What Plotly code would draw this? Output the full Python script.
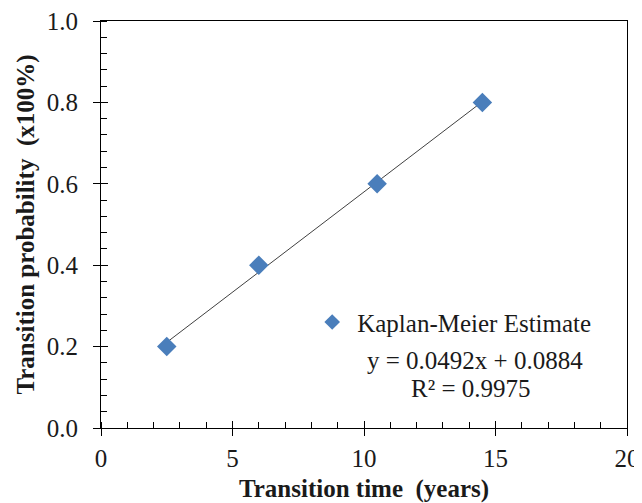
import numpy as np
import plotly.graph_objects as go

# Data
transition_time = [2.5, 6.0, 10.5, 14.5]
transition_prob = [0.2, 0.4, 0.6, 0.8]
x_ticks = [0, 5, 10, 15, 20]
y_ticks = [0.0, 0.2, 0.4, 0.6, 0.8, 1.0]
equation_text = "y = 0.0492x + 0.0884"
r2_text = "R² = 0.9975"

slope, intercept = np.polyfit(transition_time, transition_prob, 1)
fit_x = [min(transition_time), max(transition_time)]
fit_y = [slope * v + intercept for v in fit_x]

FONT = "Liberation Serif, Times New Roman, serif"
TXT = "#1a1a1a"

fig = go.Figure()
fig.add_trace(go.Scatter(x=fit_x, y=fit_y, mode="lines",
                         line=dict(color="#404040", width=1),
                         showlegend=False, hoverinfo="skip"))
fig.add_trace(go.Scatter(x=transition_time, y=transition_prob, mode="markers",
                         name="Kaplan-Meier Estimate",
                         marker=dict(symbol="diamond", size=15, color="#4A7EBB")))

axis_common = dict(showgrid=False, zeroline=False, showline=True, linecolor="black",
                   linewidth=1, mirror=True, ticks="outside", ticklen=7, tickwidth=1,
                   tickcolor="black", automargin=False, ticklabeloverflow="allow",
                   tickfont=dict(family=FONT, size=25, color=TXT))

fig.update_xaxes(range=[0, 20], tickvals=x_ticks, ticktext=[str(v) for v in x_ticks],
                 minor=dict(ticks="inside", dtick=1, ticklen=6, tickcolor="black", tickwidth=1),
                 ticklabelstandoff=1,
                 title=dict(text="<b>Transition time  (years)</b>",
                            font=dict(family=FONT, size=25, color=TXT), standoff=11),
                 **axis_common)
fig.update_yaxes(range=[0, 1.0], tickvals=y_ticks, ticktext=[f"{v:.1f}" for v in y_ticks],
                 minor=dict(ticks="inside", dtick=0.04, ticklen=6, tickcolor="black", tickwidth=1),
                 ticklabelstandoff=10,
                 title=dict(text="<b>Transition probability  (x100%)</b>",
                            font=dict(family=FONT, size=25, color=TXT), standoff=5),
                 **axis_common)

# overlay axes to draw the inside half of the crossing major ticks
fig.update_layout(
    xaxis2=dict(overlaying="x", anchor="y", range=[0, 20], tickvals=x_ticks, ticks="inside",
                ticklen=7, tickcolor="black", showticklabels=False, showgrid=False,
                zeroline=False, showline=False, side="bottom", automargin=False),
    yaxis2=dict(overlaying="y", anchor="x", range=[0, 1.0], tickvals=y_ticks, ticks="inside",
                ticklen=7, tickcolor="black", showticklabels=False, showgrid=False,
                zeroline=False, showline=False, side="left", automargin=False),
)
fig.add_trace(go.Scatter(x=[None], y=[None], xaxis="x2", yaxis="y2", showlegend=False))

fig.add_annotation(text=equation_text, x=0.711, y=0.165, xref="paper", yref="paper",
                   xanchor="center", yanchor="middle",
                   showarrow=False, font=dict(family=FONT, size=25, color=TXT))
fig.add_annotation(text=r2_text, x=0.703, y=0.096, xref="paper", yref="paper",
                   xanchor="center", yanchor="middle",
                   showarrow=False, font=dict(family=FONT, size=25, color=TXT))

fig.update_layout(
    width=634, height=495,
    margin=dict(l=93, r=15, t=13, b=75),
    plot_bgcolor="white", paper_bgcolor="white",
    legend=dict(x=0.392, y=0.26, xanchor="left", yanchor="middle", itemwidth=40,
                itemsizing="constant",
                bgcolor="rgba(0,0,0,0)", font=dict(family=FONT, size=25, color=TXT)),
)

fig.write_html("out.html")
